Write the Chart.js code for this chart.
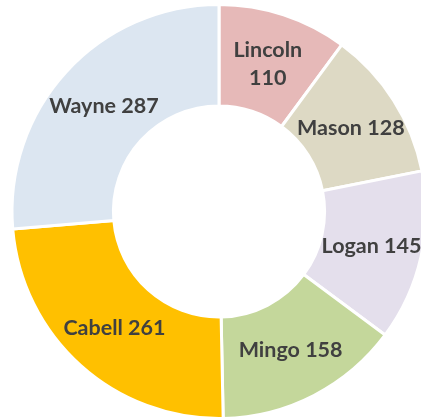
<!DOCTYPE html>
<html>
<head>
<meta charset="utf-8">
<script src="https://cdn.jsdelivr.net/npm/chart.js@4.4.0/dist/chart.umd.min.js"></script>
<style>
  html, body { margin: 0; padding: 0; background: #fff; overflow: hidden; }
  #wrap { width: 430px; height: 425px; }
</style>
</head>
<body>
<div id="wrap"><canvas id="chart"></canvas></div>
<script>
// county counts, clockwise from 12 o'clock
const counties = ["Lincoln", "Mason", "Logan", "Mingo", "Cabell", "Wayne"];
const counts = [110, 128, 145, 158, 261, 287];
const sliceColors = ["#e6b9b8", "#ddd9c4", "#e4dfec", "#c4d79b", "#ffc000", "#dce6f1"];

// draw "Name value" inside each slice, wrap when it does not fit the arc
const sliceLabels = {
    id: "sliceLabels",
    afterDatasetsDraw(chart) {
        const ctx = chart.ctx;
        const meta = chart.getDatasetMeta(0);
        ctx.save();
        ctx.font = "bold 21.5px Lato";
        ctx.fillStyle = "#404040";
        ctx.textAlign = "center";
        ctx.textBaseline = "middle";
        meta.data.forEach((arc, i) => {
            const pos = arc.tooltipPosition();
            const text = counties[i] + " " + counts[i];
            const midR = (arc.innerRadius + arc.outerRadius) / 2;
            const chord = 2 * midR * Math.sin((arc.endAngle - arc.startAngle) / 2);
            if (ctx.measureText(text).width > chord) {
                ctx.fillText(counties[i], pos.x, pos.y - 13);
                ctx.fillText(String(counts[i]), pos.x, pos.y + 15);
            } else {
                ctx.fillText(text, pos.x, pos.y);
            }
        });
        ctx.restore();
    }
};

const ctx = document.getElementById("chart");
const chart = new Chart(ctx, {
    type: "doughnut",
    data: {
        labels: counties,
        datasets: [
            {
                data: counts,
                backgroundColor: sliceColors,
                borderColor: "#ffffff",
                borderWidth: 3,
            },
        ],
    },
    options: {
        responsive: true,
        maintainAspectRatio: false,
        animation: false,
        cutout: "51%",
        layout: { padding: { left: 10.5, right: 2.5, top: 3, bottom: 5 } },
        plugins: {
            legend: { display: false },
            tooltip: { enabled: false },
        },
    },
    plugins: [sliceLabels],
});
</script>
</body>
</html>
